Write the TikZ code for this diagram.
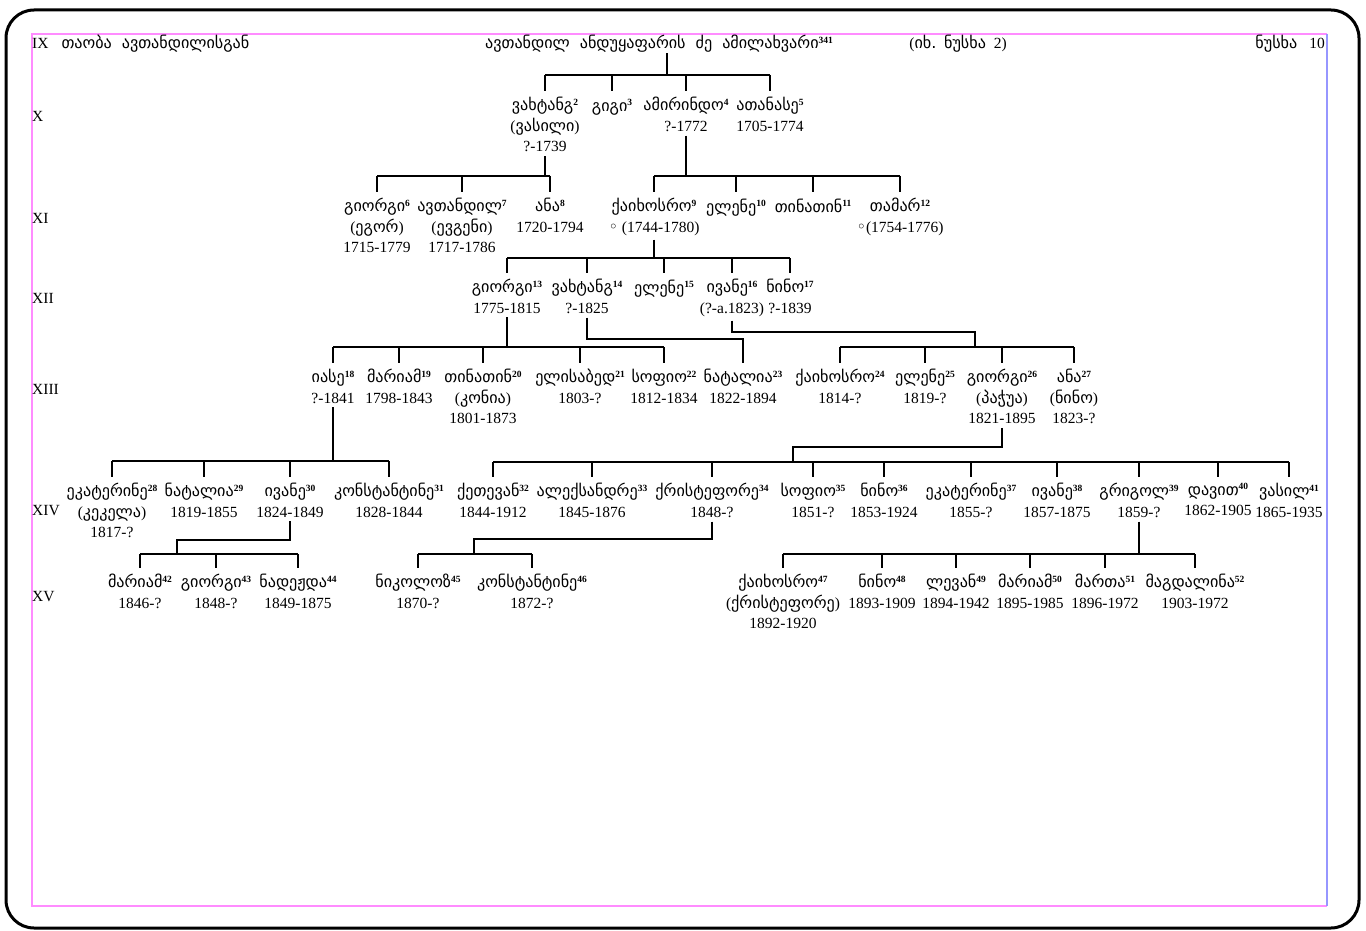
\documentclass[tikz,border=0pt]{standalone}
\usepackage{fontspec}
\setmainfont{Liberation Serif}
\newfontfamily\kafont[Scale=1.04]{DejaVu Sans}
\newcommand\ka[1]{{\kafont #1}}
\newcommand\sn[1]{\raisebox{5.5pt}{\fontsize{9.5}{10}\selectfont\bfseries #1}}
\definecolor{framepink}{RGB}{255,140,255}
\definecolor{frameblue}{RGB}{150,150,255}
\tikzset{person/.style={anchor=north, align=center, inner sep=0pt, font=\fontsize{15.5}{20.5}\selectfont, execute at begin node={\rule{0pt}{14pt}}},
  genlabel/.style={anchor=base west, inner sep=0pt, font=\fontsize{15.5}{18}\selectfont},
  link/.style={line width=1.3pt, black}}

\begin{document}
\begin{tikzpicture}[x=1pt,y=-1pt]
  \useasboundingbox (0,0) rectangle (1366,931);
  \draw[line width=3pt, rounded corners=28pt] (6,10) rectangle (1359,928);
  \draw[framepink, line width=1.5pt] (1327,34) -- (32,34) -- (32,906) -- (1327,906);
  \draw[frameblue, line width=1.5pt] (1327,34) -- (1327,906);

  % generations
  \node[genlabel] (r9)  at (32, 49) {IX\hspace{13pt}\ka{თაობა}\hspace{10pt}\ka{ავთანდილისგან}};
  \node[genlabel] (r10) at (32,122) {X};
  \node[genlabel] (r11) at (32,223) {XI};
  \node[genlabel] (r12) at (32,303) {XII};
  \node[genlabel] (r13) at (32,394) {XIII};
  \node[genlabel] (r14) at (32,515) {XIV};
  \node[genlabel] (r15) at (32,601) {XV};
  \node[genlabel, anchor=base] (see) at (958,49) {(\ka{იხ.}\ \ \ka{ნუსხა}\ \ 2)};
  \node[genlabel, anchor=base east] (list) at (1325,49) {\ka{ნუსხა}\hspace{12pt}10};

  \node[person, anchor=base] (p1) at (659,49) {\ka{ავთანდილ}\hspace{10pt}\ka{ანდუყაფარის}\hspace{10pt}\ka{ძე}\hspace{10pt}\ka{ამილახვარი}\sn{341}};

  \node[person] (p2) at (545,97) {\ka{ვახტანგ}\sn{2}\\(\ka{ვასილი})\\?-1739};
  \node[person] (p3) at (612,97) {\ka{გიგი}\sn{3}};
  \node[person] (p4) at (686,97) {\ka{ამირინდო}\sn{4}\\?-1772};
  \node[person] (p5) at (770,97) {\ka{ათანასე}\sn{5}\\1705-1774};

  \node[person] (p6)  at (377,198) {\ka{გიორგი}\sn{6}\\(\ka{ეგორ})\\1715-1779};
  \node[person] (p7)  at (462,198) {\ka{ავთანდილ}\sn{7}\\(\ka{ევგენი})\\1717-1786};
  \node[person] (p8)  at (550,198) {\ka{ანა}\sn{8}\\1720-1794};
  \node[person] (p9)  at (654,198) {\ka{ქაიხოსრო}\sn{9}\\\ka{◦} (1744-1780)};
  \node[person] (p10) at (736,198) {\ka{ელენე}\sn{10}};
  \node[person] (p11) at (813,198) {\ka{თინათინ}\sn{11}};
  \node[person] (p12) at (900,198) {\ka{თამარ}\sn{12}\\\ka{◦}(1754-1776)};

  \node[person] (p13) at (507,279) {\ka{გიორგი}\sn{13}\\1775-1815};
  \node[person] (p14) at (587,279) {\ka{ვახტანგ}\sn{14}\\?-1825};
  \node[person] (p15) at (664,279) {\ka{ელენე}\sn{15}};
  \node[person] (p16) at (732,279) {\ka{ივანე}\sn{16}\\(?-a.1823)};
  \node[person] (p17) at (790,279) {\ka{ნინო}\sn{17}\\?-1839};

  \node[person] (p18) at (333,369)  {\ka{იასე}\sn{18}\\?-1841};
  \node[person] (p19) at (399,369)  {\ka{მარიამ}\sn{19}\\1798-1843};
  \node[person] (p20) at (483,369)  {\ka{თინათინ}\sn{20}\\(\ka{კონია})\\1801-1873};
  \node[person] (p21) at (580,369)  {\ka{ელისაბედ}\sn{21}\\1803-?};
  \node[person] (p22) at (664,369)  {\ka{სოფიო}\sn{22}\\1812-1834};
  \node[person] (p23) at (743,369)  {\ka{ნატალია}\sn{23}\\1822-1894};
  \node[person] (p24) at (840,369)  {\ka{ქაიხოსრო}\sn{24}\\1814-?};
  \node[person] (p25) at (925,369)  {\ka{ელენე}\sn{25}\\1819-?};
  \node[person] (p26) at (1002,369) {\ka{გიორგი}\sn{26}\\(\ka{პაჭუა})\\1821-1895};
  \node[person] (p27) at (1074,369) {\ka{ანა}\sn{27}\\(\ka{ნინო})\\1823-?};

  \node[person] (p28) at (112,483)  {\ka{ეკატერინე}\sn{28}\\(\ka{კეკელა})\\1817-?};
  \node[person] (p29) at (204,483)  {\ka{ნატალია}\sn{29}\\1819-1855};
  \node[person] (p30) at (290,483)  {\ka{ივანე}\sn{30}\\1824-1849};
  \node[person] (p31) at (389,483)  {\ka{კონსტანტინე}\sn{31}\\1828-1844};
  \node[person] (p32) at (493,483)  {\ka{ქეთევან}\sn{32}\\1844-1912};
  \node[person] (p33) at (592,483)  {\ka{ალექსანდრე}\sn{33}\\1845-1876};
  \node[person] (p34) at (712,483)  {\ka{ქრისტეფორე}\sn{34}\\1848-?};
  \node[person] (p35) at (813,483)  {\ka{სოფიო}\sn{35}\\1851-?};
  \node[person] (p36) at (884,483)  {\ka{ნინო}\sn{36}\\1853-1924};
  \node[person] (p37) at (971,483)  {\ka{ეკატერინე}\sn{37}\\1855-?};
  \node[person] (p38) at (1057,483) {\ka{ივანე}\sn{38}\\1857-1875};
  \node[person] (p39) at (1139,483) {\ka{გრიგოლ}\sn{39}\\1859-?};
  \node[person] (p40) at (1218,483) {\ka{დავით}\sn{40}\\1862-1905};
  \node[person] (p41) at (1289,483) {\ka{ვასილ}\sn{41}\\1865-1935};

  \node[person] (p42) at (140,574)  {\ka{მარიამ}\sn{42}\\1846-?};
  \node[person] (p43) at (216,574)  {\ka{გიორგი}\sn{43}\\1848-?};
  \node[person] (p44) at (298,574)  {\ka{ნადეჟდა}\sn{44}\\1849-1875};
  \node[person] (p45) at (418,574)  {\ka{ნიკოლოზ}\sn{45}\\1870-?};
  \node[person] (p46) at (532,574)  {\ka{კონსტანტინე}\sn{46}\\1872-?};
  \node[person] (p47) at (783,574)  {\ka{ქაიხოსრო}\sn{47}\\(\ka{ქრისტეფორე})\\1892-1920};
  \node[person] (p48) at (882,574)  {\ka{ნინო}\sn{48}\\1893-1909};
  \node[person] (p49) at (956,574)  {\ka{ლევან}\sn{49}\\1894-1942};
  \node[person] (p50) at (1030,574) {\ka{მარიამ}\sn{50}\\1895-1985};
  \node[person] (p51) at (1105,574) {\ka{მართა}\sn{51}\\1896-1972};
  \node[person] (p52) at (1195,574) {\ka{მაგდალინა}\sn{52}\\1903-1972};

  % bars
  \coordinate (j1)  at (667,75);
  \coordinate (j2)  at (545,176);
  \coordinate (j4)  at (686,176);
  \coordinate (j9)  at (654,258);
  \coordinate (j13) at (507,347);
  \coordinate (j14) at (587,339);
  \coordinate (j16) at (732,332);
  \coordinate (k16) at (975,347);
  \coordinate (j18) at (333,461);
  \coordinate (j26) at (1002,447);
  \coordinate (k26) at (793,462);
  \coordinate (j30) at (290,540);
  \coordinate (k30) at (177,554);
  \coordinate (j34) at (712,539);
  \coordinate (k34) at (474,554);
  \coordinate (j39) at (1139,554);

  \draw[link] (p1.south -| j1) -- (j1) (p2 |- j1) -- (p5 |- j1)
   (p2 |- j1) -- ([yshift=6pt]p2.north) (p3 |- j1) -- ([yshift=6pt]p3.north)
   (p4 |- j1) -- ([yshift=6pt]p4.north) (p5 |- j1) -- ([yshift=6pt]p5.north);

  \draw[link] ([yshift=-4pt]p2.south) -- (j2) (p6 |- j2) -- (p8 |- j2)
   (p6 |- j2) -- ([yshift=6pt]p6.north) (p7 |- j2) -- ([yshift=6pt]p7.north)
   (p8 |- j2) -- ([yshift=6pt]p8.north);

  \draw[link] ([yshift=-4pt]p4.south) -- (j4) (p9 |- j4) -- (p12 |- j4)
   (p9 |- j4) -- ([yshift=6pt]p9.north) (p10 |- j4) -- ([yshift=6pt]p10.north)
   (p11 |- j4) -- ([yshift=6pt]p11.north) (p12 |- j4) -- ([yshift=6pt]p12.north);

  \draw[link] ([yshift=-4pt]p9.south) -- (j9) (p13 |- j9) -- (p17 |- j9)
   (p13 |- j9) -- ([yshift=6pt]p13.north) (p14 |- j9) -- ([yshift=6pt]p14.north)
   (p15 |- j9) -- ([yshift=6pt]p15.north) (p16 |- j9) -- ([yshift=6pt]p16.north)
   (p17 |- j9) -- ([yshift=6pt]p17.north);

  \draw[link] ([yshift=-4pt]p13.south) -- (j13) (p18 |- j13) -- (p22 |- j13)
   (p18 |- j13) -- ([yshift=6pt]p18.north) (p19 |- j13) -- ([yshift=6pt]p19.north)
   (p20 |- j13) -- ([yshift=6pt]p20.north) (p21 |- j13) -- ([yshift=6pt]p21.north)
   (p22 |- j13) -- ([yshift=6pt]p22.north);

  \draw[link] ([yshift=-4pt]p14.south) -- (j14) -| ([yshift=6pt]p23.north);

  \draw[link] ([yshift=-4pt]p16.south) -- (j16) -| (k16) (p24 |- k16) -- (p27 |- k16)
   (p24 |- k16) -- ([yshift=6pt]p24.north) (p25 |- k16) -- ([yshift=6pt]p25.north)
   (p26 |- k16) -- ([yshift=6pt]p26.north) (p27 |- k16) -- ([yshift=6pt]p27.north);

  \draw[link] ([yshift=-4pt]p18.south) -- (j18) (p28 |- j18) -- (p31 |- j18)
   (p28 |- j18) -- ([yshift=6pt]p28.north) (p29 |- j18) -- ([yshift=6pt]p29.north)
   (p30 |- j18) -- ([yshift=6pt]p30.north) (p31 |- j18) -- ([yshift=6pt]p31.north);

  \draw[link] ([yshift=-4pt]p26.south) -- (j26) -| (k26) (p32 |- k26) -- (p41 |- k26)
   (p32 |- k26) -- ([yshift=6pt]p32.north) (p33 |- k26) -- ([yshift=6pt]p33.north)
   (p34 |- k26) -- ([yshift=6pt]p34.north) (p35 |- k26) -- ([yshift=6pt]p35.north)
   (p36 |- k26) -- ([yshift=6pt]p36.north) (p37 |- k26) -- ([yshift=6pt]p37.north)
   (p38 |- k26) -- ([yshift=6pt]p38.north) (p39 |- k26) -- ([yshift=6pt]p39.north)
   (p40 |- k26) -- ([yshift=6pt]p40.north) (p41 |- k26) -- ([yshift=6pt]p41.north);

  \draw[link] ([yshift=-4pt]p30.south) -- (j30) -| (k30) (p42 |- k30) -- (p44 |- k30)
   (p42 |- k30) -- ([yshift=6pt]p42.north) (p43 |- k30) -- ([yshift=6pt]p43.north)
   (p44 |- k30) -- ([yshift=6pt]p44.north);

  \draw[link] ([yshift=-4pt]p34.south) -- (j34) -| (k34) (p45 |- k34) -- (p46 |- k34)
   (p45 |- k34) -- ([yshift=6pt]p45.north) (p46 |- k34) -- ([yshift=6pt]p46.north);

  \draw[link] ([yshift=-4pt]p39.south) -- (j39) (p47 |- j39) -- (p52 |- j39)
   (p47 |- j39) -- ([yshift=6pt]p47.north) (p48 |- j39) -- ([yshift=6pt]p48.north)
   (p49 |- j39) -- ([yshift=6pt]p49.north) (p50 |- j39) -- ([yshift=6pt]p50.north)
   (p51 |- j39) -- ([yshift=6pt]p51.north) (p52 |- j39) -- ([yshift=6pt]p52.north);
\end{tikzpicture}
\end{document}
